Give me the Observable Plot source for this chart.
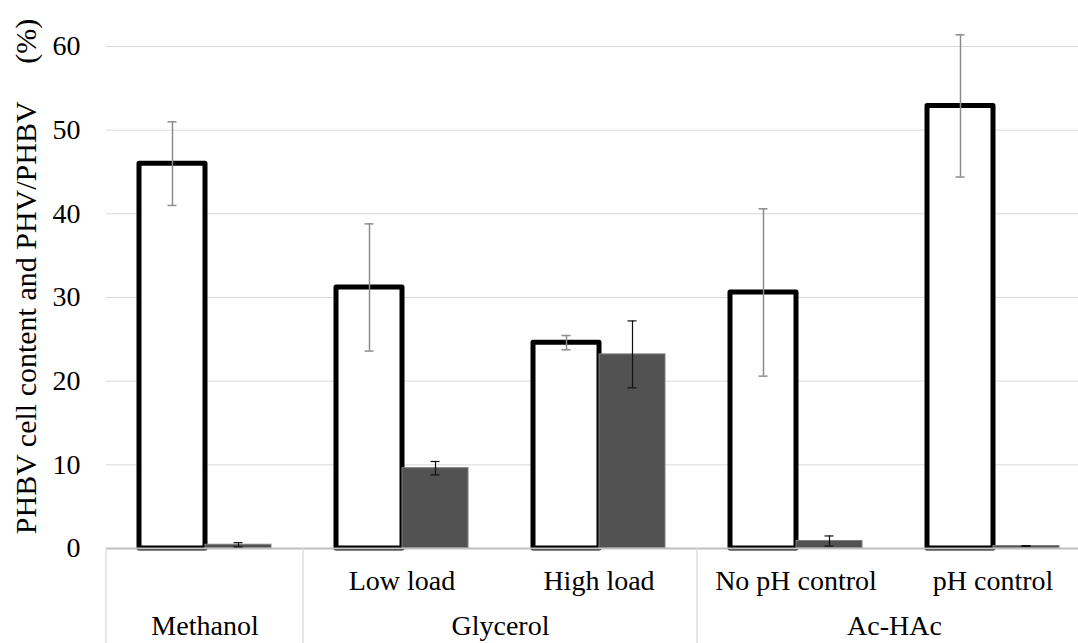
<!DOCTYPE html>
<html>
<head>
<meta charset="utf-8">
<script src="https://cdn.jsdelivr.net/npm/d3@7"></script>
<script src="https://cdn.jsdelivr.net/npm/@observablehq/plot@0.6"></script>
<style>
  html, body { margin: 0; padding: 0; background: #fff; overflow: hidden; }
  #chart { width: 1078px; height: 643px; }
</style>
</head>
<body>
<div id="chart"></div>
<script>
// ---- data ----
const categories = ["Methanol", "Low load", "High load", "No pH control", "pH control"];
const subLabels  = ["", "Low load", "High load", "No pH control", "pH control"];
const groupOf    = ["Methanol", "Glycerol", "Glycerol", "Ac-HAc", "Ac-HAc"];
const seriesNames = ["PHBV cell content", "PHV/PHBV"];
const phbvContent = [46.0, 31.2, 24.6, 30.6, 52.9];
const phbvError   = [5.0, 7.6, 0.85, 10.0, 8.5];
const phvRatio    = [0.45, 9.6, 23.2, 0.9, 0.3];
const phvError    = [0.25, 0.8, 4.0, 0.6, 0.05];
const yTicks = [0, 10, 20, 30, 40, 50, 60];
const yTitle = "PHBV cell content and PHV/PHBV\u00a0\u00a0\u00a0\u00a0\u00a0(%)";

// table built from arrays
const rows = categories.flatMap((c, i) => [
  {category: c, series: seriesNames[0], value: phbvContent[i], err: phbvError[i]},
  {category: c, series: seriesNames[1], value: phvRatio[i], err: phvError[i]}
]);
const groups = [];
groupOf.forEach((g, i) => {
  let G = groups.find(d => d.name === g);
  if (!G) groups.push(G = {name: g, cats: []});
  G.cats.push(categories[i]);
});

const FONT = "'Liberation Serif', 'Times New Roman', serif";
const isA = d => d.series === seriesNames[0];
const isB = d => d.series === seriesNames[1];

const plot = Plot.plot({
  width: 1078,
  height: 643,
  marginLeft: 106,
  marginRight: -13,
  marginTop: 46,
  marginBottom: 95,
  style: {fontFamily: FONT, fontSize: "28px", color: "#000", background: "#fff"},
  fx: {domain: categories, paddingInner: 0, paddingOuter: 0, axis: null, label: null},
  x: {domain: seriesNames, paddingInner: 0, paddingOuter: 0.48, axis: null},
  y: {domain: [0, 60], axis: null},
  marks: [
    Plot.gridY(yTicks, {stroke: "#d9d9d9", strokeOpacity: 1, strokeWidth: 1}),
    Plot.axisY(yTicks, {tickSize: 0, tickPadding: 26, fontSize: 28, label: null}),
    Plot.axisY([], {tickSize: 0, fontSize: 30, label: yTitle,
      labelAnchor: "center", labelOffset: 92, labelArrow: "none"}),
    Plot.barY(rows.filter(isA), {fx: "category", x: "series", y: "value",
      fill: "#fff", stroke: "#000", strokeWidth: 5, strokeLinejoin: "round"}),
    Plot.barY(rows.filter(isB), {fx: "category", x: "series", y: "value",
      fill: "#525252", stroke: "#7f7f7f", strokeWidth: 1}),
    Plot.ruleY([0], {stroke: "#bfbfbf", strokeWidth: 2}),
    // error bars
    Plot.ruleX(rows.filter(isA), {fx: "category", x: "series",
      y1: d => d.value - d.err, y2: d => d.value + d.err, stroke: "#8c8c8c", strokeWidth: 1.5}),
    Plot.tickY(rows.filter(isA), {fx: "category", x: "series", y: d => d.value - d.err,
      stroke: "#8c8c8c", strokeWidth: 1.5, insetLeft: 28.5, insetRight: 28.5}),
    Plot.tickY(rows.filter(isA), {fx: "category", x: "series", y: d => d.value + d.err,
      stroke: "#8c8c8c", strokeWidth: 1.5, insetLeft: 28.5, insetRight: 28.5}),
    Plot.ruleX(rows.filter(isB), {fx: "category", x: "series",
      y1: d => d.value - d.err, y2: d => d.value + d.err, stroke: "#111", strokeWidth: 1.2}),
    Plot.tickY(rows.filter(isB), {fx: "category", x: "series", y: d => d.value - d.err,
      stroke: "#111", strokeWidth: 1.2, insetLeft: 28.5, insetRight: 28.5}),
    Plot.tickY(rows.filter(isB), {fx: "category", x: "series", y: d => d.value + d.err,
      stroke: "#111", strokeWidth: 1.2, insetLeft: 28.5, insetRight: 28.5}),
    // category labels
    Plot.axisFx({anchor: "bottom", tickSize: 0, tickPadding: 22, fontSize: 28, label: null,
      tickFormat: c => subLabels[categories.indexOf(c)]}),
    // group labels: single-category groups centred on their band,
    // two-category groups centred on the boundary after their first band
    Plot.text(groups.filter(d => d.cats.length === 1), {fx: d => d.cats[0], text: "name", fontSize: 28,
      frameAnchor: "bottom", textAnchor: "middle", lineAnchor: "middle", dy: 78}),
    Plot.text(groups.filter(d => d.cats.length > 1), {fx: d => d.cats[0], text: "name", fontSize: 28,
      frameAnchor: "bottom-right", textAnchor: "middle", lineAnchor: "middle", dy: 78})
  ]
});

document.getElementById("chart").appendChild(plot);

(function () {
  const svg = d3.select(plot);
  // nudge the rotated y-axis title upward, as in the original layout
  svg.selectAll('g[aria-label="y-axis label"] text').attr("x", 21);
  // separators of the category axis, placed via the fx scale
  const fxs = plot.scale("fx");
  if (!fxs) return;
  const band = d3.scaleBand(fxs.domain, fxs.range)
    .paddingInner(fxs.paddingInner ?? 0).paddingOuter(fxs.paddingOuter ?? 0).align(fxs.align ?? 0.5);
  const ys = plot.scale("y");
  const y0 = ys && ys.apply ? ys.apply(0) : 548;
  const g = svg.append("g").attr("stroke", "#d9d9d9").attr("stroke-width", 1.3);
  groups.forEach(G => {
    const x = band(G.cats[0]);
    g.append("line").attr("x1", x).attr("x2", x).attr("y1", y0).attr("y2", 643);
  });
})();
</script>
</body>
</html>
